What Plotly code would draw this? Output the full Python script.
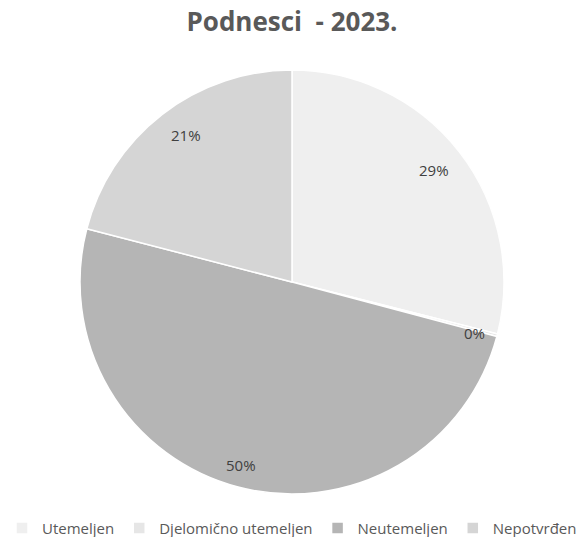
import math
import plotly.graph_objects as go

title = "Podnesci  - 2023."
labels = ["Utemeljen", "Djelomično utemeljen", "Neutemeljen", "Nepotvrđen"]
values = [29, 0.2, 50, 21]
colors = ["#efefef", "#e6e6e6", "#b5b5b5", "#d5d5d5"]

W, H = 584, 537
mt, mb = 70, 43
plot_h = H - mt - mb
radius = min(W, plot_h) / 2

fig = go.Figure(go.Pie(
    labels=labels, values=values, sort=False, direction="clockwise", rotation=0,
    marker=dict(colors=colors, line=dict(color="white", width=1.5)),
    textinfo="none", hoverinfo="label+percent",
))

total = sum(values)
cum = 0
anns = []
for v in values:
    mid = (cum + v / 2) / total * 2 * math.pi
    cum += v
    r = 0.95 * radius
    anns.append(dict(
        x=0.5 + r * math.sin(mid) / W, y=0.5 + r * math.cos(mid) / plot_h,
        xref="paper", yref="paper", showarrow=False,
        text=f"{round(v / total * 100)}%",
        font=dict(family="Open Sans", size=15, color="#404040"),
    ))

fig.update_layout(
    width=W, height=H,
    margin=dict(l=0, r=0, t=mt, b=mb, autoexpand=False),
    paper_bgcolor="white", plot_bgcolor="white",
    title=dict(text=f"<b>{title}</b>", x=0.5, xanchor="center", y=0.96, yanchor="middle",
               font=dict(family="Open Sans", size=26, color="#595959")),
    annotations=anns,
    legend=dict(orientation="h", x=0.5, xanchor="center", y=-0.042, yanchor="top",
                font=dict(family="Open Sans", size=15, color="#595959"),
                itemwidth=30, tracegroupgap=0),
)

fig.write_html("out.html", config={"displayModeBar": False},
               post_script="document.body.style.margin='0';")
